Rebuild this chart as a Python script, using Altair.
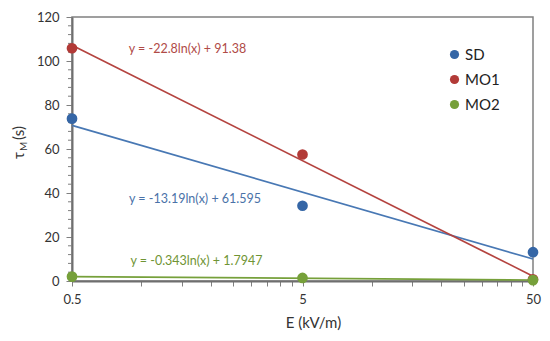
import altair as alt
import pandas as pd

# ---- data ----
E = [0.5, 5, 50]
series = ["SD", "MO1", "MO2"]
SD = [73.8, 34.2, 13.1]
MO1 = [105.8, 57.5, 0.8]
MO2 = [2.0, 1.4, 0.4]

point_colors = ["#3566a6", "#b23a37", "#76a03a"]
line_colors = ["#4878b4", "#b4433f", "#76a03a"]
text_colors = ["#4a72a8", "#b04b47", "#6f9434"]

# trendline equations shown on the chart: y = slope*ln(x) + intercept
eq_slope = [-13.19, -22.8, -0.343]
eq_intercept = [61.595, 91.38, 1.7947]
eq_labels = ["y = -13.19ln(x) + 61.595", "y = -22.8ln(x) + 91.38", "y = -0.343ln(x) + 1.7947"]
eq_E = [1.709, 1.585, 1.734]
eq_tau = [37.3, 105.4, 9.1]

x_extent = [0.5, 50]
x_ticks = [0.5, 1, 1.5, 2, 2.5, 3, 3.5, 4, 4.5, 5, 10, 15, 20, 25, 30, 35, 40, 45, 50]
x_tick_labels = [0.5, 5, 50]
y_major = list(range(0, 121, 20))
y_minor = [v for v in range(0, 121, 4) if v % 20 != 0]

# ---- tables ----
rows = []
for name, vals in zip(series, [SD, MO1, MO2]):
    for e, v in zip(E, vals):
        rows.append({"series": name, "E": e, "tau": v})
df = pd.DataFrame(rows)

trend_rows = []
for name, a, b in zip(series, eq_slope, eq_intercept):
    for e in x_extent:
        trend_rows.append({"series": name, "E": e, "a": a, "b": b})
trend_df = pd.DataFrame(trend_rows)

eq_df = pd.DataFrame({"series": series, "label": eq_labels, "E": eq_E, "tau": eq_tau})
minor_df = pd.DataFrame({"tau": y_minor})

FONT = "Lato"
AXIS_GREY = "#6f6f6f"

x_scale = alt.Scale(type="log", domain=[0.5, 50], nice=False)
y_scale = alt.Scale(domain=[0, 120], nice=False)

label_test = " || ".join(f"datum.value == {v}" for v in x_tick_labels)

x_axis = alt.Axis(
    values=x_ticks,
    labelExpr=f"({label_test}) ? datum.label : ''",
    labelOverlap=False,
    labelFlush=False,
    grid=False,
    tickSize=5,
    tickColor="#7f7f7f",
    domainColor=AXIS_GREY,
    domainWidth=2,
    labelFont=FONT,
    labelFontSize=13,
    labelColor="#333333",
    labelPadding=7,
    title="E (kV/m)",
    titleFont=FONT,
    titleFontSize=15,
    titleFontWeight="normal",
    titleColor="#333333",
    titlePadding=9,
    titleX=241,
)
y_axis = alt.Axis(
    values=y_major,
    labelOverlap=False,
    grid=False,
    tickSize=6,
    tickColor="#7f7f7f",
    domainColor=AXIS_GREY,
    domainWidth=2,
    labelFont=FONT,
    labelFontSize=13,
    labelColor="#333333",
    labelPadding=7,
    title=None,
)

lines = alt.Chart(trend_df).transform_calculate(
    tau="datum.a * log(datum.E) + datum.b"
).mark_line().encode(
    x=alt.X("E:Q", scale=x_scale, axis=x_axis),
    y=alt.Y("tau:Q", scale=y_scale, axis=y_axis),
    detail="series:N",
    color=alt.Color("series:N", scale=alt.Scale(domain=series, range=line_colors), legend=None),
    strokeWidth=alt.StrokeWidth("series:N", scale=alt.Scale(domain=series, range=[1.7, 1.7, 2.7]), legend=None),
)

minor_ticks = alt.Chart(minor_df).mark_rule(color="#7f7f7f", strokeWidth=1).encode(
    x=alt.value(-4), x2=alt.value(0),
    y=alt.Y("tau:Q", scale=y_scale),
)

points = alt.Chart(df).mark_point(filled=True, opacity=1, size=115).encode(
    x=alt.X("E:Q", scale=x_scale),
    y=alt.Y("tau:Q", scale=y_scale),
    color=alt.Color(
        "series:N",
        scale=alt.Scale(domain=series, range=point_colors),
        legend=alt.Legend(
            orient="none", legendX=375, legendY=30, title=None,
            symbolType="circle", symbolSize=85, symbolStrokeWidth=0,
            labelFont=FONT, labelFontSize=15, labelColor="#222222",
            rowPadding=9, padding=0, labelOffset=3,
        ),
    ),
)

eqs = alt.Chart(eq_df).mark_text(font=FONT, fontSize=12.5, align="center", baseline="middle").encode(
    x=alt.X("E:Q", scale=x_scale),
    y=alt.Y("tau:Q", scale=y_scale),
    text="label:N",
    color=alt.Color("series:N", scale=alt.Scale(domain=series, range=text_colors), legend=None),
)

ytitle_main = alt.Chart(pd.DataFrame({"t": ["τ"]})).mark_text(
    font=FONT, fontSize=15, angle=270, align="left", baseline="alphabetic", color="#333333"
).encode(x=alt.value(-48), y=alt.value(142), text="t:N")
ytitle_sub = alt.Chart(pd.DataFrame({"t": ["M"]})).mark_text(
    font=FONT, fontSize=10, angle=270, align="left", baseline="alphabetic", color="#333333"
).encode(x=alt.value(-45), y=alt.value(134), text="t:N")
ytitle_unit = alt.Chart(pd.DataFrame({"t": ["(s)"]})).mark_text(
    font=FONT, fontSize=15, angle=270, align="left", baseline="alphabetic", color="#333333"
).encode(x=alt.value(-48), y=alt.value(123), text="t:N")

chart = alt.layer(
    minor_ticks, lines, points, eqs, ytitle_main, ytitle_sub, ytitle_unit
).resolve_scale(
    color="independent"
).properties(
    width=461,
    height=264,
    autosize=alt.AutoSizeParams(type="none"),
    padding={"left": 64, "top": 9, "right": 9, "bottom": 52},
    background="white",
).configure_view(stroke="#808080", strokeWidth=1.5)

chart.save("out.html", embed_options={"renderer": "svg", "actions": False})
